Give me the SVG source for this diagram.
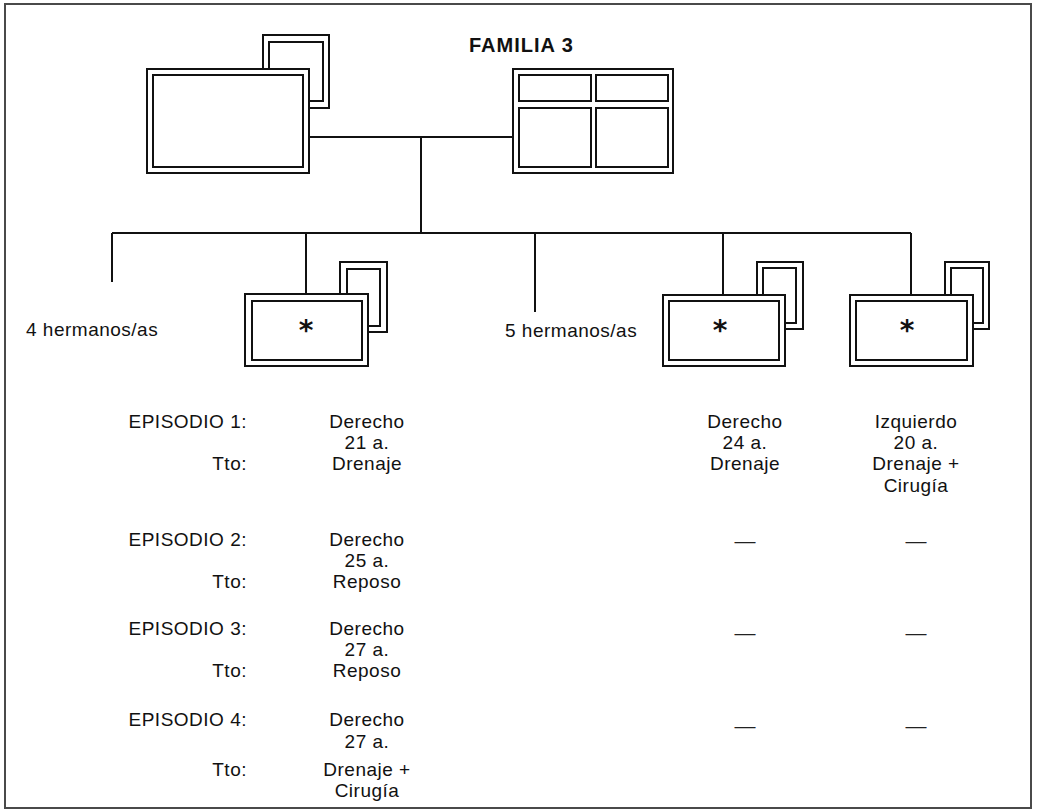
<svg xmlns="http://www.w3.org/2000/svg" width="1037" height="810" viewBox="0 0 1037 810">
<style>
.ln{fill:none;stroke:#111;stroke-width:2;stroke-linejoin:miter}
.t{font-family:"Liberation Sans",Arial,sans-serif;font-size:19px;fill:#111;letter-spacing:0.5px}
.c{text-anchor:middle}
.r{text-anchor:end}
.ttl{font-family:"Liberation Sans",Arial,sans-serif;font-size:20px;font-weight:bold;fill:#111;letter-spacing:1px}
.ast{font-family:"DejaVu Sans",sans-serif;font-size:28px;font-weight:bold;fill:#111;text-anchor:middle}
.dash{font-family:"Liberation Sans",Arial,sans-serif;font-size:21px;fill:#222;text-anchor:middle}
</style>
<rect x="0" y="0" width="1037" height="810" fill="#fff"/>
<rect x="5" y="4" width="1026" height="804" fill="none" stroke="#4a4a4a" stroke-width="2"/>

<text class="ttl" x="469" y="52">FAMILIA 3</text>

<g id="connectors" class="ln">
  <path d="M309 137H513"/>
  <path d="M421 137V233"/>
  <path d="M112 233H911"/>
  <path d="M112 233V282"/>
  <path d="M306 233V294"/>
  <path d="M535 233V312"/>
  <path d="M723 233V295"/>
  <path d="M911 233V295"/>
</g>

<g id="father" class="ln">
  <rect x="147" y="69" width="162" height="104"/>
  <rect x="153" y="75" width="150" height="92"/>
  <path d="M263 69V35H329V108H309"/>
  <path d="M269 69V42H323V101H309"/>
</g>

<g id="mother" class="ln">
  <rect x="513" y="69" width="160" height="104"/>
  <rect x="519" y="75" width="72" height="26"/>
  <rect x="596" y="75" width="72" height="26"/>
  <rect x="519" y="108" width="72" height="59"/>
  <rect x="596" y="108" width="72" height="59"/>
</g>

<g id="siblings1">
  <text class="t" x="26" y="336">4 hermanos/as</text>
</g>

<g id="child1">
  <g class="ln">
    <rect x="245" y="294" width="123" height="72"/>
    <rect x="252" y="301" width="110" height="59"/>
    <path d="M340 294V262H387V332H368"/>
    <path d="M347 294V269H380V326H368"/>
  </g>
  <text class="ast" x="306" y="340">*</text>
</g>

<g id="siblings2">
  <text class="t" x="505" y="337">5 hermanos/as</text>
</g>

<g id="child2">
  <g class="ln">
    <rect x="663" y="295" width="122" height="71"/>
    <rect x="669" y="301" width="110" height="59"/>
    <path d="M757 295V262H803V329H785"/>
    <path d="M763 295V268H796V323H785"/>
  </g>
  <text class="ast" x="720" y="340">*</text>
</g>

<g id="child3">
  <g class="ln">
    <rect x="850" y="295" width="123" height="71"/>
    <rect x="856" y="301" width="111" height="59"/>
    <path d="M945 295V262H989V329H973"/>
    <path d="M951 295V268H983V323H973"/>
  </g>
  <text class="ast" x="907" y="340">*</text>
</g>

<g id="labels">
  <text class="t r" x="247" y="428">EPISODIO 1:</text>
  <text class="t r" x="247" y="470">Tto:</text>
  <text class="t r" x="247" y="546">EPISODIO 2:</text>
  <text class="t r" x="247" y="588">Tto:</text>
  <text class="t r" x="247" y="635">EPISODIO 3:</text>
  <text class="t r" x="247" y="677">Tto:</text>
  <text class="t r" x="247" y="726">EPISODIO 4:</text>
  <text class="t r" x="247" y="776">Tto:</text>
</g>

<g id="col1">
  <text class="t c" x="367" y="428">Derecho</text>
  <text class="t c" x="367" y="449">21 a.</text>
  <text class="t c" x="367" y="470">Drenaje</text>
  <text class="t c" x="367" y="546">Derecho</text>
  <text class="t c" x="367" y="567">25 a.</text>
  <text class="t c" x="367" y="588">Reposo</text>
  <text class="t c" x="367" y="635">Derecho</text>
  <text class="t c" x="367" y="656">27 a.</text>
  <text class="t c" x="367" y="677">Reposo</text>
  <text class="t c" x="367" y="726">Derecho</text>
  <text class="t c" x="367" y="748">27 a.</text>
  <text class="t c" x="367" y="776">Drenaje +</text>
  <text class="t c" x="367" y="797">Cirugía</text>
</g>

<g id="col2">
  <text class="t c" x="745" y="428">Derecho</text>
  <text class="t c" x="745" y="449">24 a.</text>
  <text class="t c" x="745" y="470">Drenaje</text>
  <text class="dash" x="745" y="548">—</text>
  <text class="dash" x="745" y="640">—</text>
  <text class="dash" x="745" y="733">—</text>
</g>

<g id="col3">
  <text class="t c" x="916" y="428">Izquierdo</text>
  <text class="t c" x="916" y="449">20 a.</text>
  <text class="t c" x="916" y="470">Drenaje +</text>
  <text class="t c" x="916" y="492">Cirugía</text>
  <text class="dash" x="916" y="548">—</text>
  <text class="dash" x="916" y="640">—</text>
  <text class="dash" x="916" y="733">—</text>
</g>
</svg>
